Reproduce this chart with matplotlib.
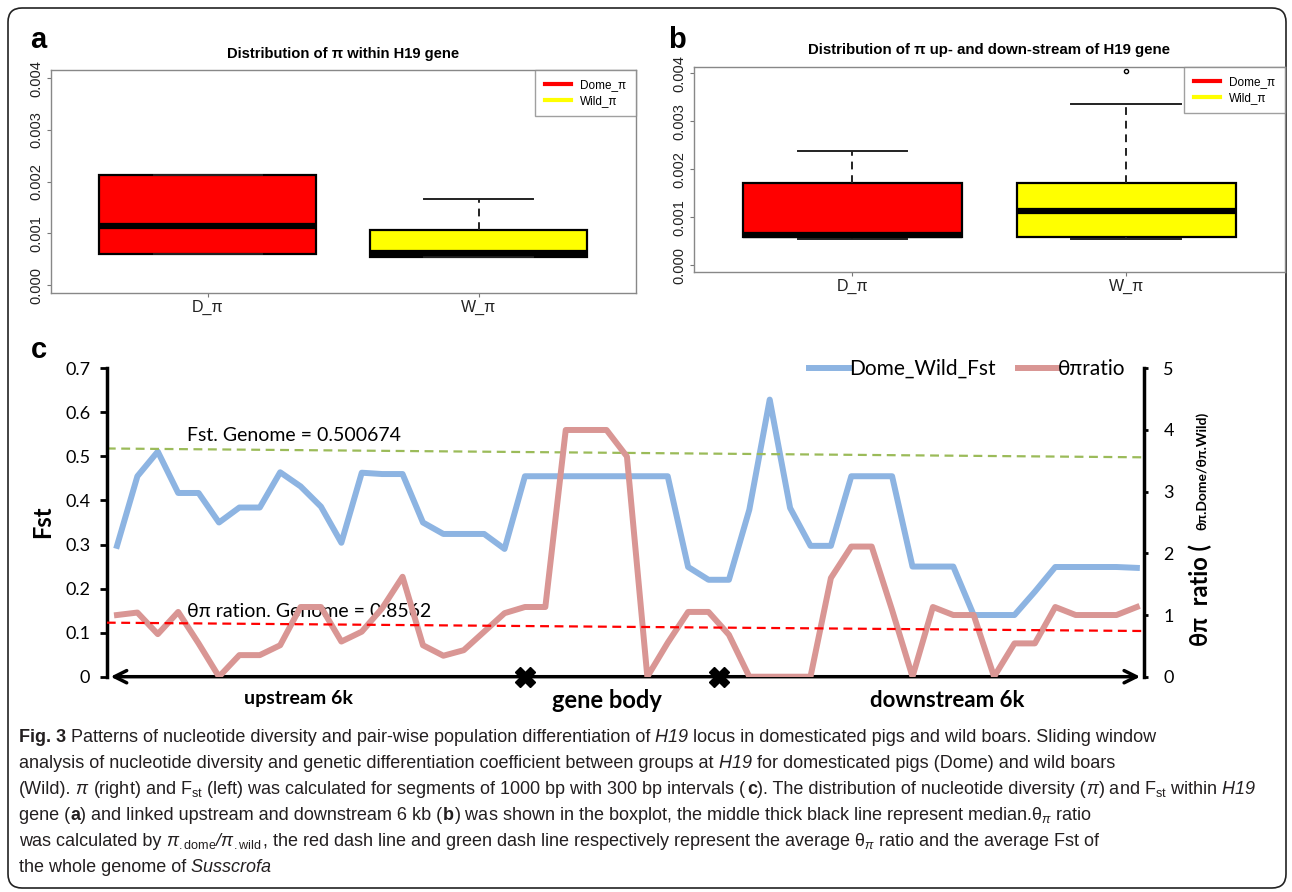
import numpy as np
import matplotlib.pyplot as plt
from matplotlib.lines import Line2D
from matplotlib.patches import FancyBboxPatch
from matplotlib.offsetbox import TextArea, HPacker, AnchoredOffsetbox
from matplotlib import font_manager

# ---- data: panel a (pi within H19 gene) ----
box_labels = ['D_π', 'W_π']
a_q1 = [0.00060, 0.000536]
a_med = [0.00114, 0.000613]
a_q3 = [0.00213, 0.00106]
a_lo = [0.00060, 0.000536]
a_hi = [0.00213, 0.00166]
a_fliers = [[], []]

# ---- data: panel b (pi up/down-stream of H19) ----
b_q1 = [0.000578, 0.00059]
b_med = [0.000626, 0.00113]
b_q3 = [0.00172, 0.00172]
b_lo = [0.000536, 0.000536]
b_hi = [0.00239, 0.00337]
b_fliers = [[], [0.00405]]

box_ticks = [0, 0.001, 0.002, 0.003, 0.004]
box_ticklabels = ['0.000', '0.001', '0.002', '0.003', '0.004']

# ---- data: panel c (sliding windows) ----
fst = [0.297, 0.455, 0.511, 0.417, 0.417, 0.350, 0.384, 0.384, 0.464, 0.432,
       0.386, 0.304, 0.463, 0.460, 0.460, 0.350, 0.324, 0.324, 0.324, 0.290,
       0.455, 0.455, 0.455, 0.455, 0.455, 0.455, 0.455, 0.455, 0.249, 0.220,
       0.220, 0.379, 0.629, 0.383, 0.297, 0.297, 0.455, 0.455, 0.455, 0.250,
       0.250, 0.250, 0.140, 0.140, 0.140, 0.193, 0.249, 0.249, 0.249, 0.249,
       0.247]
ratio = [1.00, 1.04, 0.69, 1.05, 0.54, 0.00, 0.35, 0.35, 0.51, 1.13,
         1.13, 0.57, 0.73, 1.11, 1.62, 0.51, 0.34, 0.43, 0.73, 1.03,
         1.13, 1.13, 4.00, 4.00, 4.00, 3.57, 0.00, 0.55, 1.05, 1.05,
         0.68, 0.00, 0.00, 0.00, 0.00, 1.60, 2.11, 2.11, 1.08, 0.00,
         1.13, 1.00, 1.00, 0.00, 0.54, 0.54, 1.13, 1.00, 1.00, 1.00,
         1.13]
line_x_ends = [-0.5, 50.25]
fst_genome_ends = [0.518, 0.498]      # green dashed line
ratio_genome_ends = [0.876, 0.741]    # red dashed line
gene_marks = [20.0, 29.5]
fst_ticks = [0, 0.1, 0.2, 0.3, 0.4, 0.5, 0.6, 0.7]
fst_ticklabels = ['0', '0.1', '0.2', '0.3', '0.4', '0.5', '0.6', '0.7']
ratio_ticks = [0, 1, 2, 3, 4, 5]

W, H = 1292, 892
names = {f.name for f in font_manager.fontManager.ttflist}
cap_fam = 'Liberation Sans Narrow' if 'Liberation Sans Narrow' in names else 'Liberation Sans'
r_fam = 'Liberation Sans'
c_fam = ['Lato', 'DejaVu Sans']

plt.rcParams['mathtext.fontset'] = 'custom'
plt.rcParams['mathtext.rm'] = cap_fam
plt.rcParams['mathtext.it'] = cap_fam + ':italic'
plt.rcParams['mathtext.bf'] = cap_fam + ':bold'

fig = plt.figure(figsize=(12.92, 8.92), dpi=100)

# background axes in pixel units
bg = fig.add_axes([0, 0, 1, 1], zorder=-1)
bg.set_xlim(0, W)
bg.set_ylim(H, 0)
bg.axis('off')
bg.add_patch(FancyBboxPatch((8, 8), 1278, 880, boxstyle='round,pad=0,rounding_size=14',
                            fc='none', ec='#222222', lw=1.2))


def px_axes(l, t, r, b):
    return fig.add_axes([l / W, 1 - b / H, (r - l) / W, (b - t) / H])


def box_panel(ax, q1, med, q3, lo, hi, fliers, ylim, title, title_fs):
    stats = []
    for i in range(len(q1)):
        stats.append(dict(q1=q1[i], med=med[i], q3=q3[i], whislo=lo[i],
                          whishi=hi[i], fliers=fliers[i], label=box_labels[i]))
    bp = ax.bxp(stats, positions=[1, 2], widths=0.8, patch_artist=True,
                capwidths=0.4,
                boxprops=dict(lw=1.6, edgecolor='black'),
                medianprops=dict(color='black', lw=4.5, solid_capstyle='butt'),
                whiskerprops=dict(ls=(0, (4, 3)), lw=1.4, color='#222222'),
                capprops=dict(lw=1.4, color='#222222'),
                flierprops=dict(marker='o', mfc='none', mec='black', ms=3, mew=1))
    for patch, col in zip(bp['boxes'], ['#FF0000', '#FFFF00']):
        patch.set_facecolor(col)
    ax.set_xlim(0.42, 2.58)
    ax.set_ylim(*ylim)
    ax.set_yticks(box_ticks)
    ax.set_yticklabels(box_ticklabels, rotation=90, va='center', family=r_fam,
                       fontsize=10.5, color='#222222')
    ax.set_xticks([1, 2])
    ax.set_xticklabels(box_labels, family=r_fam, fontsize=11.5, color='#222222')
    ax.tick_params(axis='both', length=3, color='#777777', pad=2)
    for s in ax.spines.values():
        s.set_color('#888888')
        s.set_linewidth(1.0)
    ax.set_title(title, family=r_fam, fontsize=title_fs, fontweight='bold', pad=9)
    handles = [Line2D([], [], color='#FF0000', lw=3), Line2D([], [], color='#FFFF00', lw=3)]
    leg = ax.legend(handles, ['Dome_π', 'Wild_π'], loc='upper right', fancybox=False,
                    borderaxespad=0, prop=dict(family=r_fam, size=8.5), handlelength=2.2,
                    borderpad=0.8, labelspacing=0.3, edgecolor='#888888')
    leg.get_frame().set_linewidth(1.0)


ax_a = px_axes(50.6, 70, 635.7, 293.3)
box_panel(ax_a, a_q1, a_med, a_q3, a_lo, a_hi, a_fliers, (-0.00016, 0.00416),
          'Distribution of π within H19 gene', 10.6)
ax_b = px_axes(693.6, 66.7, 1284.8, 272.3)
box_panel(ax_b, b_q1, b_med, b_q3, b_lo, b_hi, b_fliers, (-0.00015, 0.00414),
          'Distribution of π up- and down-stream of H19 gene', 10.8)

# ---- panel c ----
blue = '#8DB4E2'
pink = '#D99694'
ax = px_axes(107, 368.3, 1144, 676.7)
ax2 = ax.twinx()
x = np.arange(len(fst))
l1, = ax.plot(x, fst, color=blue, lw=4.3)
ax.plot(line_x_ends, fst_genome_ends, color='#9BBB59', lw=1.6, ls=(0, (4, 2.5)))
l2, = ax2.plot(x, ratio, color=pink, lw=4.3)
ax2.plot(line_x_ends, ratio_genome_ends, color='#FF0000', lw=1.6, ls=(0, (4, 2.5)))

ax.set_xlim(-0.49, 50.35)
ax.set_ylim(0, 0.7)
ax2.set_ylim(0, 5)
ax.set_xticks([])
ax.set_yticks(fst_ticks)
ax.set_yticklabels(fst_ticklabels, family=c_fam, fontsize=13)
ax2.set_yticks(ratio_ticks)
ax2.set_yticklabels([str(t) for t in ratio_ticks], family=c_fam, fontsize=13)
ax.tick_params(axis='y', length=5, width=2, pad=7)
ax2.tick_params(axis='y', length=3, width=2, pad=11)
for s in ['top', 'right', 'bottom']:
    ax.spines[s].set_visible(False)
    ax2.spines[s if s != 'right' else 'left'].set_visible(False)
ax.spines['left'].set_linewidth(2.5)
ax2.spines['right'].set_linewidth(2.5)
ax.patch.set_visible(False)

ax.annotate('', xy=(-0.45, 0), xytext=(50.3, 0), annotation_clip=False,
            arrowprops=dict(arrowstyle='<->', lw=2.5, color='black', mutation_scale=22))
ax.plot(gene_marks, [0, 0], ls='none', marker='X', ms=15, color='black',
        clip_on=False, zorder=6)

ax.text(8.9, -0.05, 'upstream 6k', family=c_fam, fontsize=14, fontweight='bold',
        ha='center', va='center')
ax.text(24.0, -0.054, 'gene body', family=c_fam, fontsize=17, fontweight='bold',
        ha='center', va='center')
ax.text(40.7, -0.054, 'downstream 6k', family=c_fam, fontsize=16, fontweight='bold',
        ha='center', va='center')
ax.text(3.45, 0.548, 'Fst. Genome = 0.500674', family=c_fam, fontsize=14,
        ha='left', va='center')
ax.text(3.45, 0.147, 'θπ ration. Genome = 0.8562', family=c_fam, fontsize=14,
        ha='left', va='center')

ax2.legend([l1, l2], ['Dome_Wild_Fst', 'θπratio'], loc='center right',
           bbox_to_anchor=(0.982, 0.998), ncol=2, frameon=False,
           handlelength=1.9, handletextpad=0.0, columnspacing=1.1,
           borderpad=0, borderaxespad=0, prop=dict(family=c_fam, size=15))

bg.text(42.5, 522, 'Fst', family=c_fam, fontsize=17, fontweight='bold',
        rotation=90, ha='center', va='center')
bg.text(1200, 595, 'θπ  ratio (', family=c_fam, fontsize=17, fontweight='bold',
        rotation=90, ha='center', va='center')
bg.text(1202, 471, 'θπ.Dome/θπ.Wild)', family=c_fam, fontsize=10, fontweight='bold',
        rotation=90, ha='center', va='center')

# panel letters
for lx, ly, lt in [(38, 40, 'a'), (677, 40, 'b'), (39, 350, 'c')]:
    bg.text(lx, ly, lt, family=r_fam, fontsize=21, fontweight='bold',
            ha='center', va='center')

# ---- caption ----
Rg = {}
Bd = {'weight': 'bold'}
It = {'style': 'italic'}
caption = [
    [("Fig. 3", Bd), (" Patterns of nucleotide diversity and pair-wise population differentiation of", Rg),
     (" H19", It), (" locus in domesticated pigs and wild boars. Sliding window", Rg)],
    [("analysis of nucleotide diversity and genetic differentiation coefficient between groups at", Rg),
     (" H19", It), (" for domesticated pigs (Dome) and wild boars", Rg)],
    [("(Wild).", Rg), (" π", It),
     (" (right) and F$_{\\mathrm{st}}$ (left) was calculated for segments of 1000 bp with 300 bp intervals (", Rg),
     ("c", Bd), ("). The distribution of nucleotide diversity (", Rg), ("π", It),
     (") and F$_{\\mathrm{st}}$ within", Rg), (" H19", It)],
    [("gene (", Rg), ("a", Bd), (") and linked upstream and downstream 6 kb (", Rg), ("b", Bd),
     (") was shown in the boxplot, the middle thick black line represent median.θ$_{\\pi}$ ratio", Rg)],
    [("was calculated by", Rg), (" π$_{\\mathrm{.dome}}$/π$_{\\mathrm{.wild}}$", It),
     (", the red dash line and green dash line respectively represent the average θ$_{\\pi}$ ratio and the average Fst of", Rg)],
    [("the whole genome of", Rg), (" Susscrofa", It)],
]
cap_fs = 13
for k, parts in enumerate(caption):
    boxes = [TextArea(t, textprops=dict(fontsize=cap_fs, color='#231F20', family=cap_fam, **st))
             for t, st in parts]
    pack = HPacker(children=boxes, align='baseline', pad=0, sep=0)
    ab = AnchoredOffsetbox(loc='center left', child=pack, pad=0, borderpad=0, frameon=False,
                           bbox_to_anchor=(19, 738 + 25.8 * k), bbox_transform=bg.transData)
    bg.add_artist(ab)

fig.savefig('out.png', dpi=100)
